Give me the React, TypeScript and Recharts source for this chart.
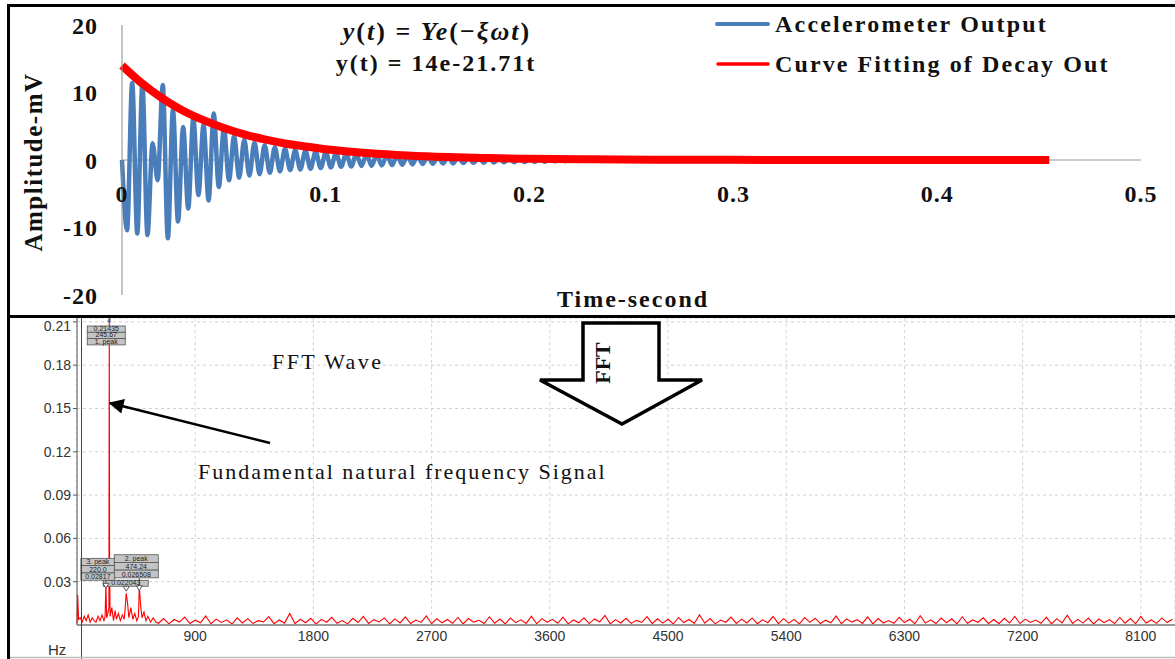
import React from "react";
import { LineChart, Line, XAxis, YAxis, CartesianGrid, ReferenceLine, ReferenceDot } from "recharts";

// ---- top panel: accelerometer decay ----
const timeStep = 0.0025; // one value per half cycle of the trace
const accelValues = [
  0, -10.4, 11.4, -10.9, 11.2, -11.1, 2.5, -3, 11.1, -11.6,
  7.4, -9.1, 4.9, -7.2, 6.2, -5.2, 5.2, -6.0, 6.9, -4.0,
  4.7, -3.0, 3.5, -2.6, 3.0, -2.3, 2.6, -2.1, 2.2, -1.9,
  1.9, -1.7, 1.7, -1.5, 1.5, -1.4, 1.4, -1.3, 1.25, -1.2,
  1.15, -1.1, 1.05, -1.0, 0.95, -0.95, 0.9, -0.9, 0.85, -0.85,
  0.8, -0.8, 0.75, -0.75, 0.7, -0.7, 0.65, -0.65, 0.6, -0.6,
  0.55, -0.55, 0.5, -0.5, 0.45, -0.5, 0.42, -0.45, 0.4, -0.42,
  0.38, -0.4, 0.35, -0.38, 0.33, -0.35, 0.3, -0.33, 0.28, -0.3,
  0.26, -0.28, 0.24, -0.25, 0.22, -0.2, 0.2, -0.18, 0.15, -0.12,
  0.1, 0,
];
const fitTimes = [0, 0.01, 0.02, 0.03, 0.04, 0.05, 0.06, 0.07, 0.08, 0.09, 0.1, 0.12, 0.14, 0.16, 0.18, 0.2, 0.23, 0.26, 0.3, 0.35, 0.4, 0.455];
const fitValues = [14.0, 11.3, 9.1, 7.3, 5.9, 4.75, 3.8, 3.05, 2.45, 2.0, 1.6, 1.05, 0.67, 0.43, 0.28, 0.18, 0.1, 0.05, 0.02, 0.01, 0, 0];
const ampTicks = [-20, -10, 0, 10, 20];
const timeTicks = [0, 0.1, 0.2, 0.3, 0.4, 0.5];

// ---- bottom panel: FFT spectrum ----
const lowHz = [0, 5, 12, 25, 40, 55, 70, 85, 100, 115, 130, 145, 160, 175, 190, 205, 214, 220, 226, 235, 243, 245.67, 248, 252, 265, 278, 290, 300, 315, 330, 345, 360, 375, 385, 395, 410, 425, 440, 455, 468, 474.24, 485, 495, 510, 525, 540, 560, 580, 600];
const lowAmp = [0.001, 0.021, 0.004, 0.005, 0.002, 0.006, 0.003, 0.007, 0.002, 0.005, 0.003, 0.002, 0.006, 0.003, 0.007, 0.003, 0.006, 0.02817, 0.005, 0.008, 0.012, 0.21435, 0.05, 0.006, 0.012, 0.003, 0.01, 0.004, 0.008, 0.003, 0.007, 0.004, 0.022, 0.015, 0.005, 0.012, 0.004, 0.008, 0.003, 0.006, 0.026508, 0.013, 0.005, 0.009, 0.003, 0.006, 0.002, 0.005, 0.002];
const noiseStartHz = 620;
const noiseStepHz = 40;
// noise floor, in units of 0.0001
const noiseAmp = [
  12, 45, 8, 38, 20, 55, 10, 33, 15, 62, 9, 41, 18, 36, 7, 50, 14, 44, 11, 30,
  22, 58, 9, 35, 13, 80, 10, 40, 16, 47, 6, 39, 19, 53, 12, 31, 8, 46, 17, 60,
  11, 37, 21, 49, 7, 42, 14, 56, 10, 34, 18, 63, 9, 43, 15, 38, 12, 52, 8, 45,
  20, 33, 10, 57, 13, 41, 7, 48, 16, 36, 11, 61, 9, 44, 19, 39, 12, 54, 8, 35,
  15, 50, 10, 42, 21, 66, 8, 37, 14, 46, 11, 32, 18, 58, 9, 43, 13, 40, 7, 52,
  17, 38, 10, 71, 12, 45, 8, 34, 19, 55, 11, 41, 14, 49, 9, 36, 16, 60, 10, 44,
  13, 39, 7, 51, 18, 47, 10, 33, 15, 62, 9, 42, 20, 37, 11, 56, 8, 45, 14, 31,
  12, 53, 17, 40, 9, 64, 13, 36, 10, 48, 16, 43, 8, 57, 12, 35, 19, 50, 11, 38,
  9, 46, 14, 59, 10, 41, 18, 34, 12, 55, 8, 44, 15, 68, 11, 39, 13, 48, 7, 42,
  16, 37, 10, 52, 13, 45, 9, 60, 14, 35, 11, 49, 17, 40,
];
const hzTicks = [900, 1800, 2700, 3600, 4500, 5400, 6300, 7200, 8100];
const magTicks = [0.03, 0.06, 0.09, 0.12, 0.15, 0.18, 0.21];
const magTop = 0.2127;

const peakTags = [
  { hz: 375, amp: 0.022, rows: ["0.022043"], bx: -23, by: -13, w: 45, rh: 6, tri: -6 },
  { hz: 220, amp: 0.02817, rows: ["3. peak", "220.0", "0.02817"], bx: -25, by: -26, w: 34, rh: 7.3, tri: 0 },
  { hz: 474.24, amp: 0.026508, rows: ["2. peak", "474.24", "0.026508"], bx: -25, by: -32, w: 44, rh: 7.7, tri: 0 },
];

const accelData = accelValues.map((v, i) => ({ t: i * timeStep, v }));
const fitData = fitTimes.map((t, i) => ({ t, v: fitValues[i] }));
const fftData = [
  ...lowHz.map((hz, i) => ({ hz, amp: lowAmp[i] })),
  ...noiseAmp.map((a, i) => ({ hz: noiseStartHz + i * noiseStepHz, amp: a / 10000 })),
];

const SERIF = "'Liberation Serif', 'Times New Roman', serif";
const SANS = "'Liberation Sans', Arial, sans-serif";
const BLUE = "#4a7ebb";
const RED = "#ff0000";

const TagRows = ({ x, y, w, rh, rows }: any) => (
  <g>
    {rows.map((r: string, i: number) => (
      <g key={i}>
        <rect x={x} y={y + i * rh} width={w} height={rh} fill="#c4c4c4" stroke="#555" strokeWidth={0.8} />
        <text x={x + w / 2} y={y + i * rh + rh - 1.2} textAnchor="middle" fontSize={7} fontFamily={SANS} fill="#222">
          {r}
        </text>
      </g>
    ))}
  </g>
);

export default function App() {
  return (
    <div style={{ position: "absolute", left: 0, top: 0, width: 1175, height: 659, overflow: "hidden", background: "#fff" }}>
      {/* FFT panel */}
      <div style={{ position: "absolute", left: 0, top: 318, zIndex: 1 }}>
        <LineChart width={1175} height={341} data={fftData} margin={{ top: 0, right: 0, bottom: 0, left: 0 }}>
          <CartesianGrid strokeDasharray="3 3" stroke="#d2d2d2" />
          <XAxis
            type="number"
            dataKey="hz"
            domain={[0, 8360]}
            ticks={hzTicks}
            height={34}
            axisLine={{ stroke: "#9a9a9a", strokeWidth: 2 }}
            tickLine={false}
            tickSize={0}
            tickMargin={6}
            tick={{ fontSize: 14, fontFamily: SANS, fill: "#333" }}
          />
          <YAxis
            type="number"
            domain={[0, magTop]}
            allowDataOverflow
            ticks={magTicks}
            width={77}
            axisLine={{ stroke: "#555" }}
            tickLine={{ stroke: "#555" }}
            tickSize={4}
            tickMargin={2}
            tickFormatter={(v: number) => v.toFixed(2)}
            tick={{ fontSize: 14, fontFamily: SANS, fill: "#333" }}
          />
          <Line type="linear" dataKey="amp" stroke={RED} strokeWidth={1.1} dot={false} isAnimationActive={false} />
          <ReferenceDot
            x={245.67}
            y={magTop}
            r={0}
            shape={(p: any) => (
              <g>
                <text x={p.cx - 2} y={p.cy + 5} fontSize={7} fontFamily={SANS} fill="#333">4</text>
                <TagRows x={p.cx - 22} y={p.cy + 8} w={38} rh={6.3} rows={["0.21435", "245.67", "1. peak"]} />
              </g>
            )}
          />
          {peakTags.map((pk) => (
            <ReferenceDot
              key={pk.hz}
              x={pk.hz}
              y={pk.amp}
              r={0}
              shape={(p: any) => {
                const ty = p.cy + pk.tri - 1;
                return (
                  <g>
                    <line x1={p.cx} y1={p.cy + pk.by + pk.rows.length * pk.rh} x2={p.cx} y2={ty} stroke="#333" strokeWidth={0.8} />
                    <TagRows x={p.cx + pk.bx} y={p.cy + pk.by} w={pk.w} rh={pk.rh} rows={pk.rows} />
                    <polygon points={`${p.cx - 3},${ty} ${p.cx + 3},${ty} ${p.cx},${ty + 5}`} fill="#fff" stroke="#333" strokeWidth={0.8} />
                  </g>
                );
              }}
            />
          ))}
        </LineChart>
      </div>

      {/* decay panel */}
      <div
        style={{
          position: "absolute",
          left: 0,
          top: 0,
          width: 1175,
          height: 318,
          background: "#fff",
          zIndex: 2,
        }}
      >
        <LineChart width={1175} height={318} margin={{ top: 25, right: 34, bottom: 23, left: 22 }}>
          <XAxis type="number" dataKey="t" domain={[0, 0.5]} ticks={timeTicks} hide />
          <YAxis
            type="number"
            domain={[-20, 20]}
            ticks={ampTicks}
            width={100}
            axisLine={{ stroke: "#8c8c8c" }}
            tickLine={false}
            tickSize={0}
            tickMargin={24}
            tick={{ fontSize: 24, fontFamily: SERIF, fontWeight: 700, fill: "#111", letterSpacing: 1 }}
          />
          <ReferenceLine y={0} stroke="#9a9a9a" strokeWidth={1} />
          <Line data={accelData} type="monotone" dataKey="v" stroke={BLUE} strokeWidth={4.5} dot={false} isAnimationActive={false} />
          <Line data={fitData} type="monotone" dataKey="v" stroke={RED} strokeWidth={8} dot={false} isAnimationActive={false} />
          {timeTicks.map((t) => (
            <ReferenceDot
              key={t}
              x={t}
              y={0}
              r={0}
              shape={(p: any) => (
                <text x={p.cx} y={p.cy + 42} textAnchor="middle" fontSize={24} fontWeight={700} fontFamily={SERIF} fill="#111" letterSpacing={1}>
                  {String(t)}
                </text>
              )}
            />
          ))}
        </LineChart>
        <div
          style={{
            position: "absolute",
            left: 7,
            top: 4,
            width: 1190,
            height: 314,
            boxSizing: "border-box",
            border: "3px solid #000",
            pointerEvents: "none",
          }}
        />
      </div>

      {/* texts, legend and arrows */}
      <svg width={1175} height={659} style={{ position: "absolute", left: 0, top: 0, zIndex: 3 }}>
        <defs>
          <marker id="head" viewBox="0 0 10 10" refX="9" refY="5" markerWidth="9" markerHeight="6" orient="auto">
            <path d="M0,0 L10,5 L0,10 z" fill="#000" />
          </marker>
        </defs>
        {/* equation */}
        <text x={437} y={40} textAnchor="middle" fontSize={26} fontWeight={700} fontFamily={SERIF} fill="#111" letterSpacing={2}>
          <tspan fontStyle="italic">y</tspan>(<tspan fontStyle="italic">t</tspan>) = <tspan fontStyle="italic">Ye</tspan>(−<tspan fontStyle="italic">ξωt</tspan>)
        </text>
        <text x={436} y={71} textAnchor="middle" fontSize={24} fontWeight={700} fontFamily={SERIF} fill="#111" letterSpacing={2}>
          y(t) = 14e-21.71t
        </text>
        {/* legend */}
        <line x1={717} y1={24} x2={768} y2={24} stroke={BLUE} strokeWidth={4} strokeLinecap="round" />
        <text x={775} y={32} fontSize={24} fontWeight={700} fontFamily={SERIF} fill="#111" letterSpacing={2.2}>
          Accelerometer Output
        </text>
        <line x1={718} y1={64} x2={768} y2={64} stroke={RED} strokeWidth={3.5} strokeLinecap="round" />
        <text x={775} y={72} fontSize={24} fontWeight={700} fontFamily={SERIF} fill="#111" letterSpacing={2.1}>
          Curve Fitting of Decay Out
        </text>
        {/* axis titles */}
        <text x={34} y={162} dy={8} transform="rotate(-90 34 162)" textAnchor="middle" fontSize={25} fontWeight={700} fontFamily={SERIF} fill="#111" letterSpacing={1.5}>
          Amplitude-mV
        </text>
        <text x={633} y={307} textAnchor="middle" fontSize={24} fontWeight={700} fontFamily={SERIF} fill="#111" letterSpacing={2}>
          Time-second
        </text>

        {/* FFT block arrow */}
        <polygon
          points="583,323 659,323 659,380 702,380 622,424 540,380 583,380"
          fill="#fff"
          stroke="#000"
          strokeWidth={3.5}
          strokeLinejoin="miter"
        />
        <text x={602} y={363} dy={7.5} transform="rotate(-90 602 363)" textAnchor="middle" fontSize={22} fontWeight={700} fontFamily={SERIF} fill="#111">
          FFT
        </text>

        {/* FFT annotations */}
        <text x={272} y={369} fontSize={22} fontFamily={SERIF} fill="#111" letterSpacing={2.4}>
          FFT Wave
        </text>
        <text x={198} y={479} fontSize={22} fontFamily={SERIF} fill="#111" letterSpacing={2}>
          Fundamental natural frequency Signal
        </text>
        <line x1={270} y1={443} x2={110} y2={403} stroke="#000" strokeWidth={2.5} markerEnd="url(#head)" />

        {/* frame bits of the FFT window */}
        <line x1={8.5} y1={318} x2={8.5} y2={659} stroke="#000" strokeWidth={3} />
        <line x1={81.5} y1={318} x2={81.5} y2={659} stroke="#444" strokeWidth={1} />
        <line x1={10} y1={657.5} x2={1175} y2={657.5} stroke="#bdbdbd" strokeWidth={1.5} />
        <text x={48} y={655} fontSize={15} fontFamily={SANS} fill="#333">Hz</text>
      </svg>
    </div>
  );
}
